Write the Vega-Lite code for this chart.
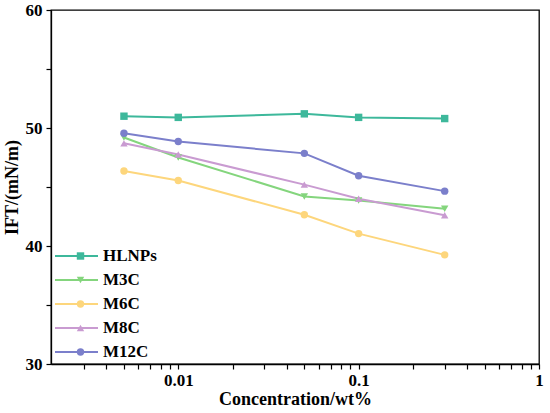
{
  "$schema": "https://vega.github.io/schema/vega-lite/v6.json",
  "width": 488,
  "height": 354,
  "autosize": "none",
  "padding": {"left": 51, "top": 10, "right": 11, "bottom": 49},
  "background": "white",
  "config": {
    "view": {"stroke": "black", "strokeWidth": 1.3},
    "font": "Liberation Serif",
    "axis": {"ticks": true, "tickColor": "black", "tickSize": 5, "tickWidth": 1.2, "tickOpacity": 1},
    "legend": {
      "orient": "none", "padding": 0, "title": null,
      "labelFont": "Liberation Serif", "labelFontWeight": "bold", "labelFontSize": 17, "labelColor": "black",
      "clipHeight": 24, "rowPadding": 0
    }
  },
  "data": {
    "values": [
      {"sample": "HLNPs", "conc": 0.005, "ift": 51.0},
      {"sample": "HLNPs", "conc": 0.01, "ift": 50.9},
      {"sample": "HLNPs", "conc": 0.05, "ift": 51.2},
      {"sample": "HLNPs", "conc": 0.1, "ift": 50.9},
      {"sample": "HLNPs", "conc": 0.3, "ift": 50.8},
      {"sample": "M3C", "conc": 0.005, "ift": 49.2},
      {"sample": "M3C", "conc": 0.01, "ift": 47.5},
      {"sample": "M3C", "conc": 0.05, "ift": 44.2},
      {"sample": "M3C", "conc": 0.1, "ift": 43.85},
      {"sample": "M3C", "conc": 0.3, "ift": 43.15},
      {"sample": "M6C", "conc": 0.005, "ift": 46.35},
      {"sample": "M6C", "conc": 0.01, "ift": 45.55},
      {"sample": "M6C", "conc": 0.05, "ift": 42.65},
      {"sample": "M6C", "conc": 0.1, "ift": 41.05},
      {"sample": "M6C", "conc": 0.3, "ift": 39.25},
      {"sample": "M8C", "conc": 0.005, "ift": 48.7},
      {"sample": "M8C", "conc": 0.01, "ift": 47.75},
      {"sample": "M8C", "conc": 0.05, "ift": 45.2},
      {"sample": "M8C", "conc": 0.1, "ift": 44.0},
      {"sample": "M8C", "conc": 0.3, "ift": 42.6},
      {"sample": "M12C", "conc": 0.005, "ift": 49.55},
      {"sample": "M12C", "conc": 0.01, "ift": 48.85},
      {"sample": "M12C", "conc": 0.05, "ift": 47.85},
      {"sample": "M12C", "conc": 0.1, "ift": 45.95},
      {"sample": "M12C", "conc": 0.3, "ift": 44.65}
    ]
  },
  "encoding": {
    "x": {
      "field": "conc", "type": "quantitative",
      "scale": {"type": "log", "domain": [0.00197, 1]},
      "axis": {
        "title": "Concentration/wt%",
        "values": [0.003, 0.004, 0.005, 0.006, 0.007, 0.008, 0.009, 0.01, 0.02, 0.03, 0.04, 0.05, 0.06, 0.07, 0.08, 0.09, 0.1, 0.2, 0.3, 0.4, 0.5, 0.6, 0.7, 0.8, 0.9, 1],
        "labelExpr": "indexof(['0.01','0.1','1'], datum.label) >= 0 ? datum.label : ''",
        "format": "~g",
        "grid": false,
        "ticks": true,
        "domainColor": "black", "domainWidth": 1.3,
        "labelFont": "Liberation Serif", "labelFontWeight": "bold", "labelFontSize": 17, "labelColor": "black",
        "labelPadding": 3, "labelFlush": false,
        "titleFont": "Liberation Serif", "titleFontWeight": "bold", "titleFontSize": 18, "titleColor": "black",
        "titlePadding": 2,
        "encode": {
          "ticks": {
            "update": {
              "stroke": {"value": "black"},
              "strokeWidth": {"value": 1.2},
              "strokeOpacity": {"value": 1},
              "opacity": {"value": 1}
            }
          }
        }
      }
    },
    "y": {
      "field": "ift", "type": "quantitative",
      "scale": {"domain": [30, 60], "nice": false, "zero": false},
      "axis": {
        "title": "IFT/(mN/m)",
        "values": [30, 35, 40, 45, 50, 55, 60],
        "labelExpr": "datum.value % 10 == 0 ? datum.label : ''",
        "grid": false,
        "ticks": true,
        "domainColor": "black", "domainWidth": 1.3,
        "labelFont": "Liberation Serif", "labelFontWeight": "bold", "labelFontSize": 17, "labelColor": "black",
        "labelPadding": 4, "labelFlush": false,
        "titleFont": "Liberation Serif", "titleFontWeight": "bold", "titleFontSize": 18, "titleColor": "black",
        "titlePadding": 4,
        "encode": {
          "ticks": {
            "update": {
              "stroke": {"value": "black"},
              "strokeWidth": {"value": 1.2},
              "strokeOpacity": {"value": 1},
              "opacity": {"value": 1}
            }
          }
        }
      }
    }
  },
  "layer": [
    {
      "mark": {"type": "line", "strokeWidth": 2},
      "encoding": {
        "color": {
          "field": "sample", "type": "nominal",
          "scale": {
            "domain": ["HLNPs", "M3C", "M6C", "M8C", "M12C"],
            "range": ["#3db89b", "#84d57d", "#fdd67c", "#c99bd1", "#7b7fcb"]
          },
          "legend": {
            "legendX": 3, "legendY": 234,
            "symbolType": "stroke", "symbolSize": 1849, "symbolStrokeWidth": 2,
            "labelOffset": 4
          }
        }
      }
    },
    {
      "mark": {"type": "point", "filled": true, "opacity": 1, "size": 55},
      "encoding": {
        "color": {
          "field": "sample", "type": "nominal",
          "legend": {
            "legendX": 21, "legendY": 234,
            "symbolSize": 55, "symbolOpacity": 1,
            "labelExpr": "''"
          }
        },
        "shape": {
          "field": "sample", "type": "nominal",
          "scale": {
            "domain": ["HLNPs", "M3C", "M6C", "M8C", "M12C"],
            "range": ["square", "triangle-down", "circle", "triangle-up", "circle"]
          },
          "legend": {
            "legendX": 21, "legendY": 234,
            "symbolSize": 55, "symbolOpacity": 1,
            "labelExpr": "''"
          }
        }
      }
    }
  ],
  "resolve": {"legend": {"color": "independent", "shape": "independent"}}
}
